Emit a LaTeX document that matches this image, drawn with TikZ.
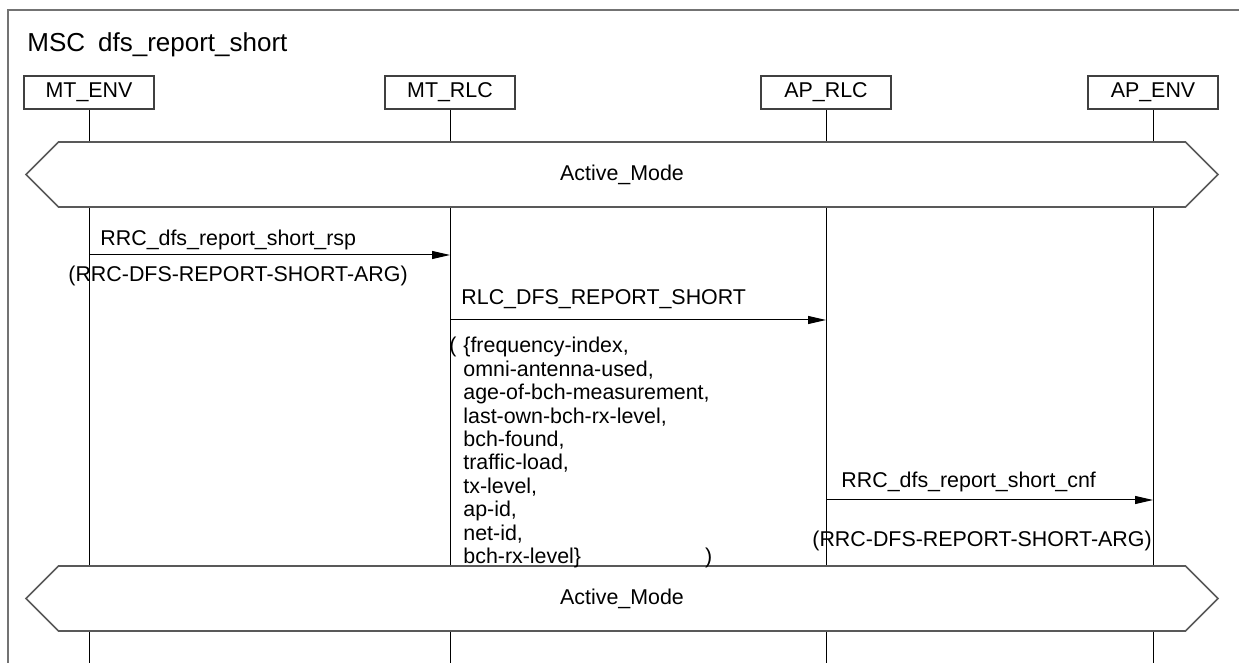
\documentclass[tikz,border=0pt]{standalone}
\usepackage{fontspec}
\setmainfont{Liberation Sans}
\usepackage{tikz}
\usetikzlibrary{positioning,arrows.meta,shapes.symbols}
\newcommand{\msgfont}{\fontsize{10.7}{11.7}\selectfont}
\newcommand{\titlefont}{\fontsize{13}{15}\selectfont}

\begin{document}
\begin{tikzpicture}[
    x=0.5pt, y=-0.5pt,
    font=\msgfont,
    inst/.style={draw=black!75, line width=0.6pt, minimum width=65pt,
                 minimum height=16.5pt, inner sep=0pt},
    cond/.style={draw=black!65, line width=0.8pt, shape=signal,
                 signal to=east and west, signal from=nowhere,
                 minimum width=596pt, minimum height=32.5pt, inner sep=0pt},
    life/.style={line width=0.5pt},
    frm/.style={draw=black!55, line width=0.8pt},
    lbl/.style={anchor=base west, inner sep=0pt},
    arr/.style={-{Triangle[length=9pt, width=4pt]}, line width=0.5pt}
]
\useasboundingbox (0,0) rectangle (1239,663);
\draw[frm] (8,663) -- (8,10) -- (1239,10);
\node[lbl, font=\titlefont] (title) at (27,52) {MSC\hspace{0.5em}dfs\_report\_short};

% instance heads
\node[inst] (mtenv) at (89,92.5) {MT\_ENV};
\node[inst] (mtrlc) at (450,92.5) {MT\_RLC};
\node[inst] (aprlc) at (826,92.5) {AP\_RLC};
\node[inst] (apenv) at (1153,92.5) {AP\_ENV};

% conditions
\node[cond] (act1) at (622,174.5) {Active\_Mode};
\node[cond] (act2) at (622,598.5) {Active\_Mode};

% lifelines
\draw[life] (mtenv.south) -- (mtenv |- act1.north) (mtenv |- act1.south) -- (mtenv |- act2.north) (mtenv |- act2.south) -- (mtenv |- 0,663);
\draw[life] (mtrlc.south) -- (mtrlc |- act1.north) (mtrlc |- act1.south) -- (mtrlc |- act2.north) (mtrlc |- act2.south) -- (mtrlc |- 0,663);
\draw[life] (aprlc.south) -- (aprlc |- act1.north) (aprlc |- act1.south) -- (aprlc |- act2.north) (aprlc |- act2.south) -- (aprlc |- 0,663);
\draw[life] (apenv.south) -- (apenv |- act1.north) (apenv |- act1.south) -- (apenv |- act2.north) (apenv |- act2.south) -- (apenv |- 0,663);

% messages
\draw[arr] (mtenv |- 0,255) -- (mtrlc |- 0,255);
\node[lbl] (rsp) at (100,246) {RRC\_dfs\_report\_short\_rsp};
\node[lbl] (rsparg) at (68,282) {(RRC-DFS-REPORT-SHORT-ARG)};

\draw[arr] (mtrlc |- 0,320) -- (aprlc |- 0,320);
\node[lbl] (rlc) at (461,305) {RLC\_DFS\_REPORT\_SHORT};
\node[anchor=north west, align=left, inner sep=0pt] (rlcarg) at (463,337)
  {\llap{(\hspace{3.5pt}}\{frequency-index,\\ omni-antenna-used,\\
   age-of-bch-measurement,\\ last-own-bch-rx-level,\\ bch-found,\\
   traffic-load,\\ tx-level,\\ ap-id,\\ net-id,\\
   bch-rx-level\}\hspace{62pt})};

\draw[arr] (aprlc |- 0,500) -- (apenv |- 0,500);
\node[lbl] (cnf) at (841,488) {RRC\_dfs\_report\_short\_cnf};
\node[lbl] (cnfarg) at (812,547) {(RRC-DFS-REPORT-SHORT-ARG)};
\end{tikzpicture}
\end{document}
